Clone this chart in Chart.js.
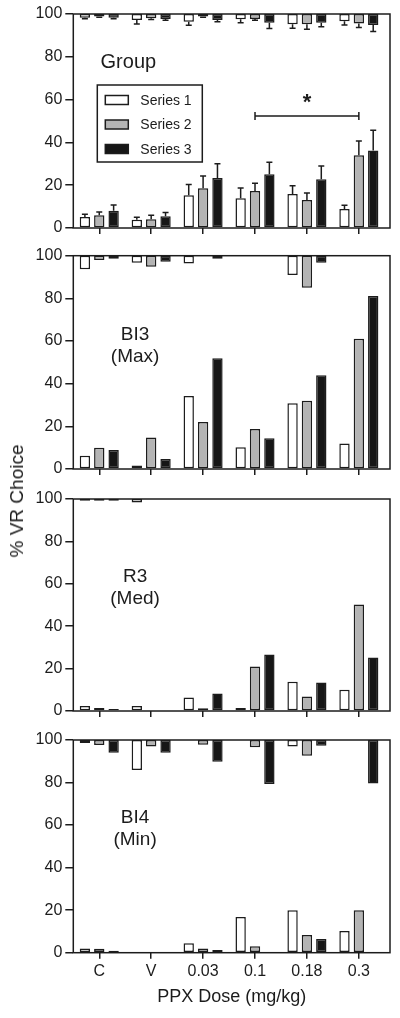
<!DOCTYPE html>
<html>
<head>
<meta charset="utf-8">
<script src="https://cdn.jsdelivr.net/npm/chart.js"></script>
<style>
  body { margin: 0; background: #fff; width: 400px; height: 1018px; position: relative; overflow: hidden; }
  canvas { position: absolute; left: 0; }
  #ytitle {
    position: absolute; left: 17px; top: 501px;
    transform: translate(-50%, -50%) rotate(-90deg);
    font: 19px "Liberation Sans", Arial, sans-serif; color: #1a1a1a; white-space: nowrap;
  }
</style>
</head>
<body>
<canvas id="p1" width="400" height="241" style="top:0px"></canvas>
<canvas id="p2" width="400" height="244" style="top:241px"></canvas>
<canvas id="p3" width="400" height="241" style="top:485px"></canvas>
<canvas id="p4" width="400" height="292" style="top:726px"></canvas>
<div id="ytitle">% VR Choice</div>
<script>
// Categories and series
const doses = ["C", "V", "0.03", "0.1", "0.18", "0.3"];
const seriesNames = ["Series 1", "Series 2", "Series 3"];
const xTitle = "PPX Dose (mg/kg)";

// Group panel: bars from 0 (low) and bars hanging from 100 (high), with SEM
const groupLow1 = [5.1, 3.9, 15.3, 13.9, 15.9, 8.9];
const groupLow2 = [5.9, 4.1, 18.6, 17.3, 13.1, 34.0];
const groupLow3 = [8.1, 5.5, 23.4, 25.1, 22.8, 36.2];
const groupLowErr1 = [1.3, 1.1, 5.0, 4.8, 3.8, 1.7];
const groupLowErr2 = [1.6, 1.8, 5.7, 3.6, 3.3, 6.7];
const groupLowErr3 = [2.7, 1.8, 6.6, 5.6, 6.2, 9.5];
const groupHigh1 = [98.2, 97.2, 96.4, 97.5, 95.2, 96.6];
const groupHigh2 = [98.8, 98.0, 98.8, 97.7, 95.2, 95.6];
const groupHigh3 = [98.2, 97.7, 97.2, 95.9, 95.9, 94.9];
const groupHighErr1 = [0.4, 1.9, 1.6, 1.6, 1.9, 1.7];
const groupHighErr2 = [0.3, 0.6, 0.3, 0.6, 2.3, 1.9];
const groupHighErr3 = [0.4, 0.6, 0.8, 2.7, 1.9, 3.1];

// BI3 (Max)
const bi3Low1 = [6.2, 1.6, 34.2, 10.2, 30.8, 12.0];
const bi3Low2 = [10.0, 14.8, 22.0, 18.7, 32.0, 61.1];
const bi3Low3 = [8.9, 4.7, 51.9, 14.4, 43.9, 81.1];
const bi3High1 = [93.6, 96.7, 96.4, null, 90.9, null];
const bi3High2 = [98.0, 94.8, null, null, 85.0, null];
const bi3High3 = [98.6, 97.2, 98.6, null, 96.7, null];

// R3 (Med)
const r3Low1 = [2.4, 2.4, 6.4, 1.4, 13.8, 10.0];
const r3Low2 = [1.4, null, 1.3, 21.0, 6.8, 50.2];
const r3Low3 = [0.9, null, 8.3, 26.7, 13.4, 25.2];
const r3High1 = [99.2, 98.4, null, null, null, null];
const r3High2 = [99.2, null, null, null, null, null];
const r3High3 = [99.2, null, null, null, null, null];

// BI4 (Min)
const bi4Low1 = [2.0, null, 4.4, 16.8, 20.0, 10.2];
const bi4Low2 = [1.9, null, 2.0, 3.0, 8.3, 20.0];
const bi4Low3 = [0.9, null, 1.3, null, 6.4, null];
const bi4High1 = [98.6, 85.9, null, null, 96.9, null];
const bi4High2 = [97.6, 96.9, 97.8, 96.6, 92.6, null];
const bi4High3 = [94.0, 94.0, 89.8, 79.3, 97.3, 79.6];

const ink = "#1c1c1c";
const fills = ["#ffffff", "#b4b4b4", "#161616"];
const fontFamily = '"Liberation Sans", Arial, sans-serif';
Chart.defaults.font.family = fontFamily;
Chart.defaults.color = ink;

// Error bars, frame, panel label, legend box and bracket
const decor = {
  id: "decor",
  afterDatasetsDraw(chart, args, opts) {
    const { ctx, chartArea: a, scales: { x, y } } = chart;
    ctx.save();
    ctx.strokeStyle = ink;
    ctx.fillStyle = ink;
    ctx.lineWidth = 1.5;

    chart.data.datasets.forEach((ds, i) => {
      const meta = chart.getDatasetMeta(i);
      ds.data.forEach((d, j) => {
        if (!d.err) return;
        const bar = meta.data[j];
        const hanging = Array.isArray(d.y);
        const v = hanging ? d.y[0] : d.y;
        const y0 = y.getPixelForValue(v);
        const y1 = y.getPixelForValue(hanging ? v - d.err : v + d.err);
        ctx.beginPath();
        ctx.moveTo(bar.x, y0);
        ctx.lineTo(bar.x, y1);
        ctx.moveTo(bar.x - 3, y1);
        ctx.lineTo(bar.x + 3, y1);
        ctx.stroke();
      });
    });

    ctx.strokeRect(a.left, a.top, a.right - a.left, a.bottom - a.top);

    ctx.textAlign = "center";
    ctx.textBaseline = "middle";
    ctx.font = opts.labelSize + "px " + fontFamily;
    opts.label.forEach((line, k) => {
      ctx.fillText(line, x.getPixelForValue(opts.labelX), y.getPixelForValue(opts.labelY) + k * 22);
    });

    if (opts.legend) {
      const lx = a.left + 24, ly = a.top + 71;
      ctx.strokeRect(lx, ly, 105, 77);
      ctx.textAlign = "left";
      ctx.font = "14px " + fontFamily;
      seriesNames.forEach((name, k) => {
        const cy = ly + 15 + k * 24.5;
        ctx.fillStyle = fills[k];
        ctx.fillRect(lx + 8, cy - 4.5, 23, 9);
        ctx.strokeRect(lx + 8, cy - 4.5, 23, 9);
        ctx.fillStyle = ink;
        ctx.fillText(name, lx + 43, cy + 1);
      });
    }

    if (opts.bracket) {
      const b = opts.bracket;
      const x0 = x.getPixelForValue(b.from), x1 = x.getPixelForValue(b.to);
      const yb = y.getPixelForValue(b.at);
      ctx.beginPath();
      ctx.moveTo(x0, yb); ctx.lineTo(x1, yb);
      ctx.moveTo(x0, yb - 4); ctx.lineTo(x0, yb + 4);
      ctx.moveTo(x1, yb - 4); ctx.lineTo(x1, yb + 4);
      ctx.stroke();
      ctx.textAlign = "center";
      ctx.textBaseline = "alphabetic";
      ctx.font = "bold 22px " + fontFamily;
      ctx.fillText("*", (x0 + x1) / 2, y.getPixelForValue(b.starAt) + 12);
    }
    ctx.restore();
  }
};

function lowData(vals, errs) {
  return vals.map((v, i) => (v == null ? null : { x: i, y: v, err: errs ? errs[i] : 0 }))
    .filter(Boolean);
}
function highData(vals, errs) {
  return vals.map((v, i) => (v == null ? null : { x: i, y: [v, 100], err: errs ? errs[i] : 0 }))
    .filter(Boolean);
}

function makePanel(id, padTop, xHeight, lows, highs, decorOpts, lastPanel) {
  const datasets = [];
  lows.forEach((s, k) => datasets.push({
    data: lowData(s.vals, s.errs), stack: "s" + k, backgroundColor: fills[k]
  }));
  highs.forEach((s, k) => datasets.push({
    data: highData(s.vals, s.errs), stack: "s" + k, backgroundColor: fills[k]
  }));
  datasets.forEach((d) => {
    d.borderColor = ink;
    d.borderWidth = 1.5;
    d.borderSkipped = false;
    d.categoryPercentage = 0.83;
    d.barPercentage = 0.72;
  });

  return new Chart(document.getElementById(id), {
    type: "bar",
    data: { datasets },
    options: {
      responsive: false,
      animation: false,
      devicePixelRatio: 1,
      layout: { padding: { top: padTop, right: 10, left: 0, bottom: 0 } },
      plugins: { legend: { display: false }, tooltip: { enabled: false }, decor: decorOpts },
      scales: {
        x: {
          type: "linear",
          stacked: true,
          offset: false,
          min: -0.5,
          max: 5.6,
          afterBuildTicks: (axis) => { axis.ticks = doses.map((_, i) => ({ value: i })); },
          afterFit: (axis) => { axis.height = xHeight; },
          border: { display: false },
          grid: { offset: false, drawOnChartArea: false, tickLength: 6, color: ink, lineWidth: 1.5 },
          ticks: {
            display: lastPanel,
            autoSkip: false,
            maxRotation: 0,
            padding: 3,
            font: { size: 16 },
            callback: (v) => doses[v]
          },
          title: {
            display: lastPanel,
            text: xTitle,
            font: { size: 18 },
            padding: { top: 0, bottom: 10 }
          }
        },
        y: {
          stacked: false,
          min: 0,
          max: 100,
          afterFit: (axis) => { axis.width = 73.3; },
          border: { display: false },
          grid: { drawOnChartArea: false, tickLength: 8, color: ink, lineWidth: 1.5 },
          ticks: { stepSize: 20, padding: 3, font: { size: 16 } }
        }
      }
    },
    plugins: [decor]
  });
}

makePanel("p1", 14, 13,
  [{ vals: groupLow1, errs: groupLowErr1 }, { vals: groupLow2, errs: groupLowErr2 }, { vals: groupLow3, errs: groupLowErr3 }],
  [{ vals: groupHigh1, errs: groupHighErr1 }, { vals: groupHigh2, errs: groupHighErr2 }, { vals: groupHigh3, errs: groupHighErr3 }],
  { label: ["Group"], labelSize: 20, labelX: 0.56, labelY: 77.5, legend: true,
    bracket: { from: 3, to: 5, at: 52.3, starAt: 61 } },
  false);

makePanel("p2", 14.7, 16,
  [{ vals: bi3Low1 }, { vals: bi3Low2 }, { vals: bi3Low3 }],
  [{ vals: bi3High1 }, { vals: bi3High2 }, { vals: bi3High3 }],
  { label: ["BI3", "(Max)"], labelSize: 19, labelX: 0.69, labelY: 62.8 },
  false);

makePanel("p3", 14, 15,
  [{ vals: r3Low1 }, { vals: r3Low2 }, { vals: r3Low3 }],
  [{ vals: r3High1 }, { vals: r3High2 }, { vals: r3High3 }],
  { label: ["R3", "(Med)"], labelSize: 19, labelX: 0.69, labelY: 63.2 },
  false);

makePanel("p4", 14, 65.3,
  [{ vals: bi4Low1 }, { vals: bi4Low2 }, { vals: bi4Low3 }],
  [{ vals: bi4High1 }, { vals: bi4High2 }, { vals: bi4High3 }],
  { label: ["BI4", "(Min)"], labelSize: 19, labelX: 0.69, labelY: 63.3 },
  true);
</script>
</body>
</html>
